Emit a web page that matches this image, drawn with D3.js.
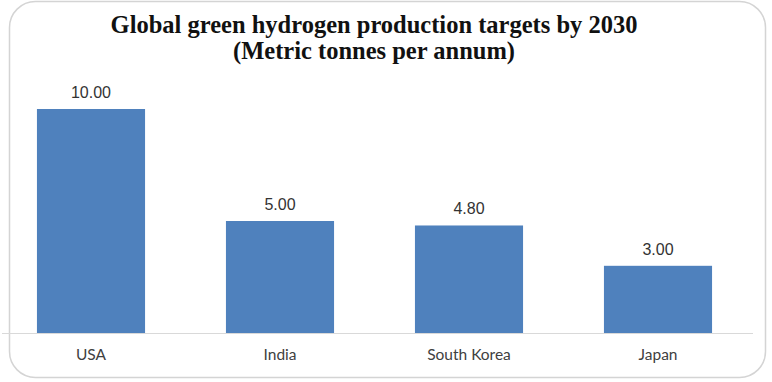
<!DOCTYPE html>
<html>
<head>
<meta charset="utf-8">
<script src="https://cdn.jsdelivr.net/npm/d3@7"></script>
<style>
  body { margin: 0; background: #fff; }
</style>
</head>
<body>
<div id="chart"></div>
<script>
const categories = ['USA', 'India', 'South Korea', 'Japan']
const targets = [10.0, 5.0, 4.8, 3.0]
const titleLines = ['Global green hydrogen production targets by 2030', '(Metric tonnes per annum)']

const width = 772
const height = 382

const svg = d3
  .select('#chart')
  .append('svg')
  .attr('width', width)
  .attr('height', height)

// outer rounded frame
svg
  .append('rect')
  .attr('x', 9.5)
  .attr('y', 1.5)
  .attr('width', 756)
  .attr('height', 376)
  .attr('rx', 26)
  .attr('fill', 'none')
  .attr('stroke', '#d4d4d4')
  .attr('stroke-width', 1.5)

const xPositionScale = d3
  .scaleBand()
  .domain(categories)
  .range([-3.5, 752.5])
  .paddingInner(0.428)
  .paddingOuter(0.214)

const yPositionScale = d3
  .scaleLinear()
  .domain([0, 10])
  .range([333, 109])

const data = categories.map((c, i) => ({ country: c, value: targets[i] }))

svg
  .selectAll('.bar')
  .data(data)
  .enter()
  .append('rect')
  .attr('class', 'bar')
  .attr('x', d => xPositionScale(d.country))
  .attr('y', d => yPositionScale(d.value))
  .attr('width', xPositionScale.bandwidth())
  .attr('height', d => yPositionScale(0) - yPositionScale(d.value))
  .attr('fill', '#4f81bd')

// baseline
svg
  .append('line')
  .attr('x1', 2)
  .attr('x2', 753)
  .attr('y1', yPositionScale(0) + 0.5)
  .attr('y2', yPositionScale(0) + 0.5)
  .attr('stroke', '#d9d9d9')
  .attr('stroke-width', 1.2)

// value labels
svg
  .selectAll('.value-label')
  .data(data)
  .enter()
  .append('text')
  .attr('class', 'value-label')
  .attr('x', d => xPositionScale(d.country) + xPositionScale.bandwidth() / 2)
  .attr('y', d => yPositionScale(d.value) - 11)
  .attr('text-anchor', 'middle')
  .attr('font-family', 'Liberation Sans, Arial, sans-serif')
  .attr('font-size', 16)
  .attr('fill', '#333')
  .text(d => d3.format('.2f')(d.value))

// category axis
const xAxis = d3.axisBottom(xPositionScale).tickSize(0).tickPadding(16)
svg
  .append('g')
  .attr('class', 'axis x-axis')
  .attr('transform', 'translate(0,' + yPositionScale(0) + ')')
  .call(xAxis)

svg.selectAll('.x-axis path').remove()
svg
  .selectAll('.x-axis text')
  .attr('font-family', 'Lato, Open Sans, sans-serif')
  .attr('font-size', 15.5)
  .attr('fill', '#404040')

// title
svg
  .selectAll('.title')
  .data(titleLines)
  .enter()
  .append('text')
  .attr('class', 'title')
  .attr('x', 374)
  .attr('y', (d, i) => 33 + i * 26)
  .attr('text-anchor', 'middle')
  .attr('font-family', 'Liberation Serif, Times New Roman, serif')
  .attr('font-weight', 'bold')
  .attr('font-size', 24.5)
  .attr('fill', '#111')
  .text(d => d)
</script>
</body>
</html>
